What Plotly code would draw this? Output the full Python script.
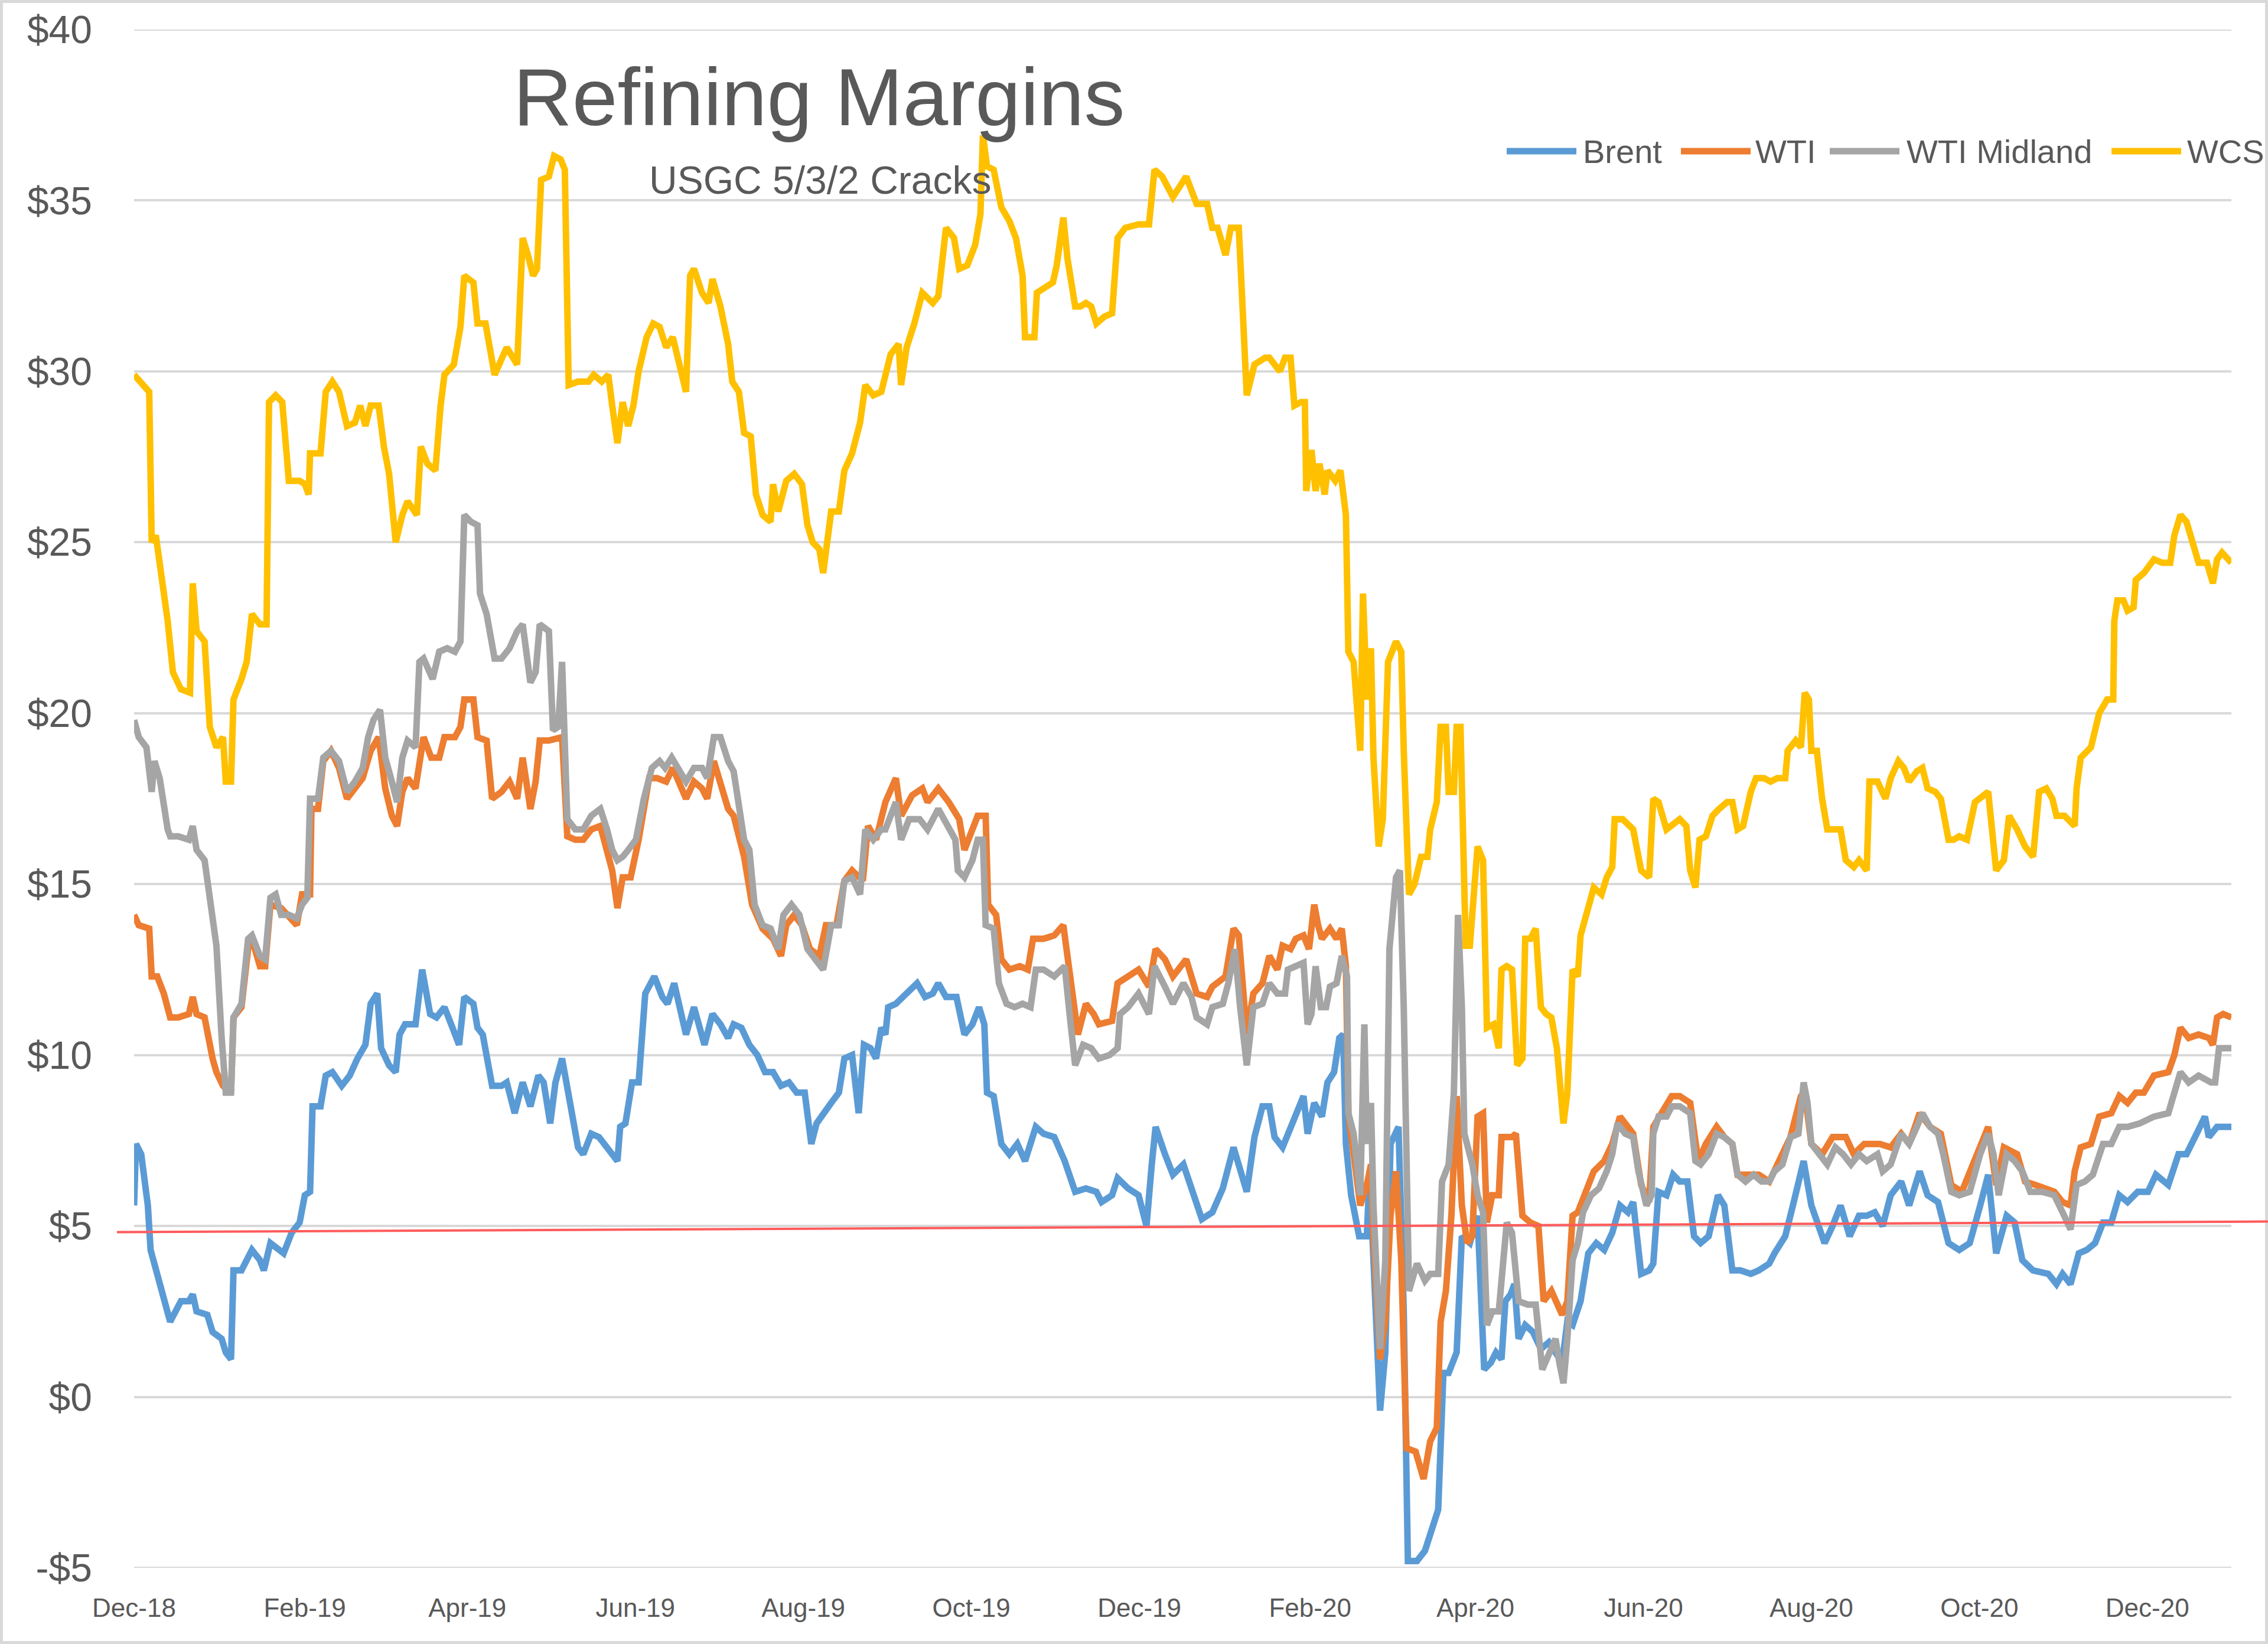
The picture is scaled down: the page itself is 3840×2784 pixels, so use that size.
import pandas as pd
import plotly.graph_objects as go

START = pd.Timestamp("2018-12-01")

# ---- Data (day offsets from 2018-12-01, values in $/bbl) ----
brent_day = [0.0, 0.7, 2.6, 5.0, 6.0, 8.4, 10.8, 13.1, 17.0, 19.9, 21.3, 22.7, 26.6, 28.5, 31.8, 33.3, 35.2, 36.1, 39.0, 42.8, 45.7, 47.1, 49.5, 52.4, 54.3, 57.2, 60.1, 62.0, 63.9, 64.8, 67.7, 69.6, 72.0, 75.4, 78.3, 81.1, 84.0, 85.9, 88.3, 89.7, 92.6, 95.0, 96.4, 98.4, 102.2, 104.6, 107.5, 109.8, 112.7, 115.6, 118.0, 119.9, 123.2, 124.7, 126.6, 130.0,
             133.4, 135.3, 138.2, 141.1, 143.9, 146.8, 148.7, 151.1, 153.0, 155.4, 158.3, 161.2, 163.1, 166.0, 168.8, 171.7, 175.5, 176.5, 178.4, 180.8, 183.2, 185.6, 188.9, 191.8, 193.7, 196.1, 198.5, 200.4, 203.3, 207.1, 210.0, 212.9, 215.7, 217.7, 220.5, 223.4, 226.3, 229.1, 232.0, 234.9, 237.8, 240.6, 243.5, 245.9, 247.8, 250.2, 253.1, 255.9, 257.9, 260.7, 263.1, 265.0, 267.4, 269.4, 271.3,
             272.8, 273.8, 276.6, 280.5, 284.3, 287.2, 290.0, 292.0, 294.8, 298.6, 301.5, 304.4, 306.8, 308.7, 309.7, 312.1, 314.9, 317.8, 320.7, 323.5, 327.4, 330.2, 334.1, 337.9, 341.7, 345.6, 349.4, 351.3, 355.1, 357.1, 360.9, 364.7, 367.6, 369.5, 370.9, 374.3, 377.2, 381.0, 383.9, 387.7, 391.5, 395.3, 399.2, 401.1, 404.0, 406.8, 409.7,
             412.2, 414.1, 417.0, 418.9, 421.8, 424.6, 426.1, 428.5, 431.3, 433.3, 435.7, 437.6, 439.0, 440.0, 441.9, 444.8, 447.6, 448.6, 450.0, 452.4, 454.3, 456.2, 459.1, 461.0, 462.5, 465.8, 468.7, 471.6, 473.5, 475.4, 477.3, 480.2, 482.1, 485.0, 487.8, 490.2, 492.6, 494.5, 496.5, 497.9, 499.8, 501.2, 502.7, 505.1, 507.9, 510.8, 513.7, 516.1, 518.5, 520.4, 522.3, 525.2, 528.0, 530.9, 533.8, 536.7, 539.5, 542.4, 544.3, 547.2, 550.1,
             551.6, 553.5, 556.4, 558.8, 561.2, 564.0, 566.4, 568.8, 571.7, 575.1, 577.4, 580.3, 583.2, 587.0, 589.9, 593.7, 595.6, 599.5, 602.3, 606.2, 609.0, 611.0, 613.8, 616.7, 619.6, 622.9, 626.3, 629.1, 632.0, 634.9, 637.8, 641.6, 644.5, 648.3, 651.2, 655.0, 658.8, 662.7, 666.5, 670.3, 673.2, 676.1, 679.9, 682.8, 685.6, 689.5,
             695.0, 698.0, 700.2, 703.1, 706.1, 709.0, 712.0, 714.9, 717.9, 720.8, 723.8, 727.5, 731.2, 734.1, 738.6, 742.3, 745.2, 748.9, 751.9, 753.3, 756.3, 761.5]
brent_usd = [5.6, 7.4, 7.1, 5.6, 4.3, 3.6, 3.0, 2.2, 2.8, 2.8, 3.0, 2.5, 2.4, 1.9, 1.7, 1.3, 1.1, 3.7, 3.7, 4.3, 4.0, 3.7, 4.5, 4.3, 4.2, 4.8, 5.1, 5.9, 6.0, 8.5, 8.5, 9.4, 9.5, 9.1, 9.4, 9.9, 10.3, 11.5, 11.8, 10.2, 9.7, 9.5, 10.6, 10.9, 10.9, 12.5, 11.2, 11.1, 11.4, 10.8, 10.3, 11.7, 11.5, 10.8, 10.6, 9.1,
             9.1, 9.2, 8.3, 9.2, 8.5, 9.4, 9.2, 8.0, 9.2, 9.9, 8.6, 7.3, 7.1, 7.7, 7.6, 7.3, 6.9, 7.9, 8.0, 9.2, 9.2, 11.8, 12.3, 11.7, 11.5, 12.1, 11.2, 10.6, 11.4, 10.3, 11.2, 10.9, 10.5, 10.9, 10.8, 10.3, 10.0, 9.5, 9.5, 9.1, 9.2, 8.9, 8.9, 7.4, 8.0, 8.3, 8.6, 8.9, 9.9, 10.0, 8.3, 10.3, 10.2, 9.9, 10.8,
             10.6, 11.4, 11.5, 11.8, 12.1, 11.7, 11.8, 12.1, 11.7, 11.7, 10.6, 10.9, 11.4, 10.9, 8.9, 8.8, 7.4, 7.1, 7.4, 6.9, 7.9, 7.7, 7.6, 6.9, 6.0, 6.1, 6.0, 5.7, 5.9, 6.4, 6.1, 5.9, 5.0, 6.8, 7.9, 7.1, 6.5, 6.8, 6.1, 5.2, 5.4, 6.1, 7.3, 6.8, 6.0, 7.6, 8.5,
             8.5, 7.6, 7.3, 7.7, 8.3, 8.8, 7.7, 8.6, 8.2, 9.2, 9.5, 10.5, 10.6, 7.4, 5.9, 4.7, 4.7, 6.6, 4.0, -0.4, 1.3, 7.4, 7.9, 2.5, -4.8, -4.8, -4.5, -3.8, -3.3, 0.7, 0.7, 1.3, 4.7, 4.5, 5.3, 0.8, 1.0, 1.3, 1.1, 2.8, 3.0, 3.3, 1.7, 2.1, 1.9, 1.4, 1.6, 1.3, 1.0, 2.2, 2.1, 2.8, 4.2, 4.5, 4.3, 4.8, 5.6, 5.4, 5.7, 3.6, 3.7,
             3.9, 6.0, 5.9, 6.5, 6.3, 6.3, 4.7, 4.5, 4.7, 5.9, 5.6, 3.7, 3.7, 3.6, 3.7, 3.9, 4.2, 4.7, 5.6, 6.9, 5.6, 5.1, 4.5, 5.0, 5.6, 4.7, 5.3, 5.3, 5.4, 5.0, 5.9, 6.3, 5.6, 6.6, 5.9, 5.7, 4.5, 4.3, 4.5, 5.6, 6.5, 4.2, 5.3, 5.1, 4.0, 3.7,
             3.6, 3.3, 3.6, 3.3, 4.2, 4.3, 4.5, 5.1, 5.1, 5.9, 5.7, 6.0, 6.0, 6.5, 6.2, 7.1, 7.1, 7.7, 8.2, 7.6, 7.9, 7.9]

wti_day = [0.0, 1.7, 5.5, 6.4, 8.4, 10.8, 13.1, 16.0, 19.9, 21.3, 22.7, 25.6, 28.5, 29.9, 32.3, 35.2, 36.1, 39.0, 41.4, 42.8, 45.7, 47.6, 49.5, 53.4, 59.1, 61.0, 63.9, 64.4, 66.8, 68.7, 71.5, 74.4, 77.3, 80.2, 83.0, 85.9, 88.8, 91.2, 93.6, 95.5, 97.4, 99.3, 102.2, 105.1, 107.9, 110.8, 112.7, 116.5, 118.5, 119.9, 123.2, 124.7, 128.0, 130.0,
           133.4, 136.3, 139.1, 141.1, 143.9, 145.8, 147.3, 150.6, 154.0, 155.4, 157.3, 160.2, 163.1, 166.0, 169.3, 171.7, 173.6, 175.5, 177.4, 180.3, 183.2, 187.0, 189.9, 193.2, 195.6, 200.4, 203.3, 206.2, 208.1, 210.5, 212.9, 215.7, 217.7, 219.6, 221.5, 224.4, 228.2, 232.0, 234.9, 236.8, 239.7, 242.5, 245.4, 248.8, 251.2, 255.0, 257.9, 260.7, 264.6, 266.5, 269.4,
           272.8, 276.6, 278.5, 282.5, 286.2, 288.1, 292.0, 295.8, 299.6, 301.5, 304.4, 306.3, 309.2, 310.1, 313.0, 314.9, 317.8, 321.6, 324.5, 326.4, 330.2, 334.1, 337.4, 339.8, 342.7, 345.6, 348.4, 350.3, 355.1, 357.1, 360.9, 364.7, 368.5, 370.9, 374.3, 377.2, 382.0, 385.8, 389.6, 391.5, 396.3, 399.2, 401.1, 404.0, 406.4, 409.7,
           412.2, 415.1, 417.0, 419.9, 421.8, 424.6, 426.6, 428.5, 429.9, 431.3, 434.2, 436.6, 438.5, 440.0, 440.9, 442.8, 445.2, 447.6, 449.1, 450.0, 452.4, 454.3, 456.2, 458.2, 460.1, 462.0, 465.3, 468.2, 470.6, 473.0, 474.4, 476.3, 478.3, 480.2, 482.1, 484.0, 485.9, 487.8, 489.8, 491.2, 493.1, 495.5, 496.5, 500.3, 501.7, 504.1, 507.0, 509.9, 511.8, 514.6, 516.6, 518.5, 520.4, 522.3, 524.2, 527.1, 530.0, 533.8, 536.7, 539.5, 542.4, 544.3, 547.2, 550.1,
           551.6, 554.5, 558.3, 561.2, 565.0, 567.9, 570.7, 574.6, 577.4, 580.3, 582.2, 586.1, 589.9, 593.7, 596.6, 601.4, 605.2, 606.6, 609.0, 612.9, 616.7, 621.5, 624.4, 628.2, 633.9, 637.8, 641.6, 644.5, 648.3, 652.1, 656.0, 659.8, 663.6, 670.3, 673.2, 676.1, 678.9, 683.7, 686.6, 690.4,
           697.2, 700.2, 703.1, 704.6, 706.8, 710.5, 713.5, 717.9, 720.8, 723.8, 726.8, 729.7, 733.4, 738.6, 740.8, 743.0, 746.0, 749.6, 753.3, 754.8, 756.3, 758.5, 761.5]
wti_usd = [14.1, 13.8, 13.7, 12.3, 12.3, 11.8, 11.1, 11.1, 11.2, 11.7, 11.2, 11.1, 9.9, 9.5, 9.1, 8.9, 11.1, 11.4, 13.1, 13.4, 12.6, 12.6, 14.4, 14.3, 13.8, 14.7, 14.7, 17.2, 17.2, 18.6, 18.9, 18.4, 17.5, 17.8, 18.1, 18.9, 19.3, 17.8, 17.0, 16.7, 17.7, 18.1, 17.8, 19.3, 18.7, 18.7, 19.3, 19.3, 19.6, 20.4, 20.4, 19.3, 19.2, 17.5,
           17.7, 18.0, 17.5, 18.7, 17.2, 18.0, 19.2, 19.2, 19.3, 19.3, 16.4, 16.3, 16.3, 16.6, 16.7, 16.0, 15.4, 14.3, 15.2, 15.2, 16.3, 18.1, 18.1, 18.0, 18.4, 17.5, 18.0, 17.8, 17.5, 18.6, 18.0, 17.2, 17.0, 16.3, 15.8, 14.4, 13.7, 13.4, 12.9, 13.8, 14.1, 13.8, 13.1, 12.9, 13.8, 13.8, 15.1, 15.4, 15.1, 16.7, 16.3,
           17.4, 18.1, 17.0, 17.6, 17.8, 17.4, 17.8, 17.4, 16.9, 16.0, 16.6, 17.0, 17.0, 14.4, 14.1, 12.8, 12.5, 12.6, 12.5, 13.4, 13.4, 13.5, 13.8, 12.3, 10.6, 11.5, 11.2, 10.9, 11.0, 12.1, 12.3, 12.5, 12.0, 13.1, 12.8, 12.3, 12.8, 11.8, 11.7, 12.0, 12.3, 13.7, 13.5, 10.6, 11.8, 12.1,
           12.9, 12.5, 13.2, 13.1, 13.4, 13.5, 13.1, 14.4, 13.8, 13.4, 13.7, 13.4, 13.7, 12.6, 8.3, 7.1, 5.6, 6.2, 6.8, 4.7, 1.1, 2.2, 5.3, 6.6, 4.0, -1.5, -1.6, -2.4, -1.3, -0.9, 2.2, 3.1, 5.3, 8.8, 5.6, 4.5, 4.7, 8.2, 8.3, 5.1, 5.9, 5.9, 7.6, 7.6, 7.7, 5.3, 5.1, 5.0, 2.8, 3.1, 2.7, 2.4, 2.8, 5.3, 5.4, 6.0, 6.6, 6.9, 7.4, 8.2, 7.9, 7.7, 6.2, 5.7,
           7.9, 8.3, 8.8, 8.8, 8.6, 6.9, 7.4, 7.9, 7.6, 7.4, 6.5, 6.5, 6.5, 6.3, 6.8, 7.6, 8.8, 8.9, 7.4, 7.1, 7.6, 7.6, 7.1, 7.4, 7.4, 7.3, 7.7, 7.4, 8.3, 7.9, 7.7, 6.2, 6.0, 7.3, 7.9, 6.2, 7.3, 7.1, 6.3, 6.2,
           6.0, 5.7, 5.6, 6.6, 7.3, 7.4, 8.2, 8.3, 8.8, 8.6, 8.9, 8.9, 9.4, 9.5, 10.0, 10.8, 10.5, 10.6, 10.5, 10.3, 11.1, 11.2, 11.1]

midland_day = [0.0, 1.7, 4.5, 6.4, 7.4, 9.3, 12.2, 13.1, 16.0, 19.9, 21.3, 22.7, 25.6, 27.5, 29.9, 31.8, 33.3, 35.2, 36.1, 39.0, 41.4, 42.8, 45.7, 47.6, 49.5, 51.4, 53.4, 56.2, 59.1, 61.0, 62.9, 63.9, 66.8, 68.7, 71.5, 74.4, 77.3, 80.2, 83.0, 85.0, 86.9, 89.3, 91.2, 93.6, 95.5, 97.4, 99.3, 102.2, 103.6, 105.1, 108.4, 110.8, 113.7, 116.5, 118.5, 119.9, 122.3, 124.7, 125.6, 128.0, 130.9,
               133.4, 136.3, 139.1, 141.1, 143.9, 145.8, 147.3, 150.6, 152.1, 154.0, 155.4, 157.3, 160.2, 163.1, 166.0, 169.3, 171.7, 173.6, 175.5, 177.4, 179.4, 182.2, 185.1, 188.0, 190.8, 192.8, 195.2, 197.5, 200.4, 203.3, 206.2, 208.1, 210.5, 212.9, 215.7, 217.7, 219.6, 221.5, 223.4, 225.3, 228.2, 231.1, 233.9, 235.8, 238.7, 241.6, 244.5, 247.3, 250.2, 253.1, 255.9, 257.9, 260.7, 263.6, 265.5, 268.4, 271.3,
               272.8, 276.6, 278.5, 281.4, 285.2, 288.1, 292.0, 295.8, 298.2, 299.1, 301.5, 304.4, 306.3, 308.2, 309.2, 312.1, 314.0, 316.8, 319.7, 322.6, 325.5, 327.4, 330.2, 334.1, 337.9, 339.8, 341.7, 344.6, 347.5, 350.3, 354.2, 357.1, 358.0, 360.9, 364.7, 368.5, 370.5, 374.3, 377.2, 381.0, 383.9, 385.8, 389.6, 391.5, 395.3, 397.3, 399.7, 401.6, 404.0, 406.4, 409.7,
               412.2, 415.1, 417.9, 418.9, 421.8, 424.6, 426.1, 427.5, 429.0, 430.9, 432.8, 434.2, 436.6, 438.5, 440.4, 440.9, 442.8, 445.2, 446.7, 447.6, 449.1, 450.0, 452.4, 454.3, 455.8, 458.2, 459.6, 461.0, 462.9, 465.8, 468.7, 470.6, 473.5, 474.9, 477.3, 479.2, 480.7, 482.1, 483.0, 485.9, 487.8, 489.8, 491.2, 493.1, 495.5, 498.4, 500.3, 502.7, 506.0, 508.9, 511.3, 513.7, 516.1, 517.5, 519.0, 520.4, 522.3, 524.2, 526.1, 529.0, 531.9, 534.7, 536.7, 538.6, 541.4, 544.3, 546.2, 549.1, 551.0,
               551.6, 553.5, 556.4, 558.3, 561.2, 565.0, 566.9, 568.8, 571.7, 574.6, 577.4, 580.3, 582.2, 585.1, 588.0, 590.9, 593.7, 595.6, 598.5, 601.4, 604.3, 606.2, 607.6, 609.0, 611.9, 614.8, 617.7, 620.5, 623.4, 626.3, 629.1, 633.0, 634.9, 637.8, 641.6, 644.5, 647.3, 649.3, 652.1, 655.0, 656.9, 659.8, 662.7, 666.5, 670.3, 673.2, 675.1, 677.0, 679.9, 682.8, 685.6, 688.5,
               692.8, 697.2, 700.2, 703.1, 705.3, 708.3, 711.2, 714.9, 717.9, 720.8, 723.8, 728.2, 733.4, 738.6, 740.8, 743.0, 746.0, 749.6, 754.1, 755.6, 757.0, 761.5]
midland_usd = [19.8, 19.3, 19.0, 17.7, 18.6, 18.1, 16.6, 16.4, 16.4, 16.3, 16.7, 16.0, 15.7, 14.7, 13.2, 10.5, 8.9, 8.9, 11.1, 11.5, 13.4, 13.5, 12.9, 12.8, 14.6, 14.7, 14.1, 14.1, 14.0, 14.4, 14.6, 17.5, 17.5, 18.7, 18.9, 18.6, 17.7, 18.0, 18.4, 19.3, 19.8, 20.1, 18.7, 18.0, 17.4, 18.7, 19.2, 19.0, 21.5, 21.6, 21.0, 21.8, 21.9, 21.8, 22.1, 25.8, 25.6, 25.5, 23.5, 22.9, 21.6,
               21.6, 21.9, 22.4, 22.6, 20.9, 21.2, 22.6, 22.4, 19.5, 19.6, 21.5, 16.9, 16.6, 16.6, 17.0, 17.2, 16.6, 16.0, 15.7, 15.8, 16.0, 16.3, 17.5, 18.4, 18.6, 18.4, 18.7, 18.4, 18.0, 18.4, 18.4, 18.1, 19.3, 19.3, 18.6, 18.3, 17.2, 16.3, 16.0, 14.4, 13.8, 13.7, 13.1, 14.1, 14.4, 14.1, 13.1, 12.8, 12.5, 13.8, 13.8, 15.1, 15.2, 14.7, 16.6, 16.3, 16.6,
               16.6, 17.4, 16.3, 16.9, 16.9, 16.6, 17.2, 16.6, 16.3, 15.4, 15.2, 15.7, 16.3, 16.3, 13.8, 13.7, 12.1, 11.5, 11.4, 11.5, 11.4, 12.5, 12.5, 12.3, 12.6, 11.1, 9.7, 10.3, 10.2, 9.9, 10.0, 10.2, 11.2, 11.4, 11.8, 11.2, 12.6, 12.0, 11.5, 12.1, 11.7, 11.1, 10.9, 11.4, 11.5, 12.1, 13.1, 11.4, 9.7, 11.4, 11.5,
               12.1, 11.8, 11.8, 12.5, 12.6, 12.7, 10.9, 11.2, 12.6, 11.4, 11.4, 12.0, 12.1, 12.9, 12.3, 8.3, 7.7, 5.9, 10.9, 7.4, 8.6, 5.6, 1.4, 4.0, 13.1, 15.2, 15.4, 11.4, 3.1, 3.9, 3.4, 3.6, 3.6, 6.3, 6.8, 8.9, 14.1, 11.4, 7.7, 6.8, 5.9, 5.4, 2.1, 2.5, 2.5, 5.1, 4.8, 2.8, 2.7, 2.7, 0.8, 1.3, 1.7, 1.0, 0.4, 1.7, 4.0, 4.5, 5.4, 5.9, 6.1, 6.6, 7.1, 8.0, 7.7, 7.6, 6.6, 5.6, 5.9,
               7.7, 8.2, 8.2, 8.5, 8.5, 8.3, 6.9, 6.8, 7.1, 7.7, 7.6, 7.4, 6.5, 6.3, 6.5, 6.3, 6.3, 6.6, 6.8, 7.6, 7.7, 9.2, 8.6, 7.4, 7.1, 6.8, 7.3, 7.1, 6.8, 7.1, 6.9, 7.1, 6.6, 6.8, 7.7, 7.4, 7.9, 8.3, 7.9, 7.7, 7.1, 6.0, 5.9, 6.0, 7.1, 7.7, 7.1, 5.9, 7.1, 6.9, 6.6, 6.0,
               6.0, 5.9, 5.4, 4.9, 6.2, 6.3, 6.5, 7.4, 7.4, 7.9, 7.9, 8.0, 8.2, 8.3, 8.9, 9.5, 9.2, 9.4, 9.2, 9.2, 10.2, 10.2]

wcs_day = [0.0, 3.1, 5.5, 6.4, 7.9, 9.8, 12.2, 14.1, 17.0, 20.3, 21.3, 22.7, 25.6, 27.5, 29.9, 32.3, 33.3, 35.2, 36.1, 39.0, 40.9, 42.8, 45.7, 48.1, 49.0, 51.4, 53.8, 56.2, 60.1, 62.0, 63.4, 63.9, 67.7, 69.6, 72.0, 74.4, 77.3, 80.2, 82.1, 84.0, 85.9, 88.8, 90.7, 92.6, 95.0, 97.4, 99.3, 102.7, 104.1, 106.5, 109.4, 111.3, 112.7, 116.1, 118.5, 119.9, 123.2, 124.7, 127.6, 130.9,
           133.4, 135.3, 139.1, 141.1, 143.0, 144.9, 146.3, 147.8, 150.6, 152.5, 154.9, 156.4, 157.8, 161.2, 165.0, 166.9, 169.8, 172.2, 173.6, 175.5, 177.4, 179.4, 181.3, 183.2, 186.1, 188.5, 190.8, 193.2, 195.6, 198.0, 200.4, 201.9, 203.3, 206.2, 208.6, 210.0, 212.9, 215.7, 217.2, 219.6, 221.5, 223.9, 225.8, 228.2, 231.1, 232.0, 233.9, 236.8, 239.7, 242.5, 244.5, 246.4, 248.8, 250.2, 253.1, 255.9, 257.9, 260.7, 263.6, 265.5, 268.4, 271.3,
           272.8, 274.7, 277.6, 278.5, 280.5, 283.3, 286.2, 290.0, 292.0, 293.4, 294.8, 297.7, 299.6, 302.5, 305.4, 307.3, 308.2, 309.7, 312.1, 314.9, 317.8, 320.2, 322.6, 323.5, 326.9, 327.8, 331.2, 333.6, 335.0, 337.4, 338.9, 341.7, 343.6, 345.6, 347.5, 349.4, 352.3, 355.1, 357.1, 359.9, 364.7, 368.5, 370.5, 373.3, 377.2, 382.0, 385.8, 389.6, 391.5, 393.4, 396.3, 398.2, 401.1, 404.0, 406.8, 410.7,
           412.2, 414.1, 416.0, 417.9, 419.9, 421.3, 423.7, 425.1, 425.6, 427.5, 429.0, 430.4, 432.3, 433.3, 436.1, 438.0, 440.0, 440.9, 442.8, 445.2, 446.2, 447.6, 449.1, 450.0, 451.9, 453.4, 455.3, 458.2, 460.1, 461.0, 462.9, 464.9, 467.3, 469.6, 470.6, 473.0, 474.4, 476.3, 477.3, 479.2, 480.2, 481.6, 483.5, 485.0, 487.8, 489.8, 491.2, 493.6, 495.5, 496.5, 498.4, 500.3, 502.2, 504.1, 505.1, 507.0, 508.9, 510.8, 512.7, 514.6, 516.6, 519.0, 520.4, 522.3, 524.2, 525.2, 528.0, 530.0, 532.8, 534.7, 536.7, 537.6, 540.5, 544.3, 547.2, 550.1,
           551.6, 553.5, 556.4, 558.3, 561.2, 563.6, 565.0, 566.9, 568.4, 570.7, 573.1, 575.5, 578.4, 580.3, 582.2, 584.2, 587.0, 588.9, 591.8, 594.2, 596.6, 599.5, 600.4, 603.3, 605.2, 606.6, 608.1, 609.0, 611.0, 612.9, 614.8, 617.7, 619.6, 621.5, 624.4, 626.3, 629.1, 630.1, 633.0, 635.9, 637.8, 640.6, 642.6, 644.5, 647.3, 649.3, 651.2, 654.0, 656.0, 658.8, 660.7, 662.7, 665.5, 668.4, 673.2, 676.1, 678.9, 680.8, 683.7, 686.6, 689.5,
           691.7, 694.3, 696.5, 698.0, 700.9, 704.6, 705.3, 706.8, 710.5, 713.5, 716.4, 718.6, 719.0, 720.1, 722.3, 723.8, 726.0, 726.8, 729.7, 733.4, 736.4, 739.3, 740.8, 743.0, 745.2, 747.4, 749.6, 752.6, 754.8, 756.3, 758.1, 761.5]
wcs_usd = [29.9, 29.6, 29.4, 25.0, 25.2, 24.1, 22.7, 21.2, 20.7, 20.6, 23.8, 22.4, 22.1, 19.6, 19.0, 19.3, 18.0, 18.0, 20.4, 21.0, 21.5, 22.9, 22.6, 22.6, 29.1, 29.3, 29.1, 26.8, 26.8, 26.7, 26.4, 27.6, 27.6, 29.4, 29.7, 29.4, 28.4, 28.5, 29.0, 28.4, 29.0, 29.0, 27.8, 27.0, 25.0, 25.8, 26.2, 25.8, 27.8, 27.3, 27.1, 29.0, 29.9, 30.2, 31.3, 32.8, 32.6, 31.4, 31.4, 29.9,
           30.4, 30.7, 30.2, 33.9, 33.4, 32.8, 33.0, 35.6, 35.7, 36.3, 36.2, 35.9, 29.6, 29.7, 29.7, 29.9, 29.7, 29.9, 29.0, 27.9, 29.1, 28.4, 29.0, 30.0, 31.0, 31.4, 31.3, 30.7, 31.0, 30.2, 29.4, 32.8, 33.0, 32.3, 32.0, 32.7, 31.9, 30.8, 29.7, 29.4, 28.2, 28.1, 26.4, 25.8, 25.6, 26.7, 25.9, 26.8, 27.0, 26.7, 25.5, 25.0, 24.8, 24.1, 25.9, 25.9, 27.1, 27.6, 28.5, 29.6, 29.3, 29.4,
           29.9, 30.5, 30.8, 29.6, 30.7, 31.4, 32.3, 32.0, 32.2, 33.4, 34.2, 33.9, 33.0, 33.1, 33.7, 34.6, 36.9, 36.0, 35.9, 34.8, 34.4, 33.9, 32.8, 31.0, 31.0, 32.3, 32.5, 32.6, 33.1, 34.5, 33.3, 31.9, 31.9, 32.0, 31.9, 31.4, 31.6, 31.7, 33.9, 34.2, 34.3, 34.3, 35.9, 35.7, 35.1, 35.7, 34.9, 34.9, 34.2, 34.2, 33.4, 34.2, 34.2, 29.3, 30.2, 30.4,
           30.4, 30.2, 30.0, 30.4, 30.4, 29.0, 29.1, 29.1, 26.5, 27.7, 26.5, 27.3, 26.4, 27.1, 26.8, 27.1, 25.8, 21.8, 21.5, 18.9, 23.5, 20.4, 21.9, 18.7, 16.1, 16.9, 21.5, 22.1, 21.8, 18.9, 14.7, 15.0, 15.8, 15.8, 16.6, 17.4, 19.6, 19.6, 17.7, 17.7, 19.6, 19.6, 13.2, 13.2, 16.1, 15.7, 10.8, 10.9, 10.2, 12.5, 12.6, 12.5, 9.7, 9.9, 13.4, 13.4, 13.7, 11.4, 11.2, 11.1, 10.2, 8.0, 8.9, 12.5, 12.3, 13.5, 14.4, 14.9, 14.7, 15.2, 15.5, 16.9, 16.9, 16.6, 15.4, 15.2,
           17.5, 17.4, 16.6, 16.7, 16.9, 16.7, 15.4, 14.9, 16.3, 16.4, 17.0, 17.2, 17.4, 17.4, 16.6, 16.7, 17.7, 18.1, 18.1, 18.0, 18.1, 18.1, 18.9, 19.2, 19.0, 20.6, 20.4, 18.9, 18.9, 17.5, 16.6, 16.6, 16.6, 15.7, 15.5, 15.7, 15.4, 18.0, 18.0, 17.5, 18.1, 18.6, 18.4, 18.0, 18.3, 18.4, 17.8, 17.7, 17.5, 16.3, 16.3, 16.4, 16.3, 17.4, 17.7, 15.4, 15.7, 17.0, 16.6, 16.1, 15.8,
           17.7, 17.8, 17.5, 17.0, 17.0, 16.7, 17.8, 18.7, 19.0, 20.0, 20.4, 20.4, 22.7, 23.3, 23.3, 23.0, 23.1, 23.9, 24.1, 24.5, 24.4, 24.4, 25.2, 25.8, 25.6, 25.0, 24.4, 24.4, 23.8, 24.5, 24.7, 24.4]

series_names = ["Brent", "WTI", "WTI Midland", "WCS"]
series_colors = ["#5B9BD5", "#ED7D31", "#A5A5A5", "#FFC000"]
series_days = [brent_day, wti_day, midland_day, wcs_day]
series_vals = [brent_usd, wti_usd, midland_usd, wcs_usd]

y_tick_vals = [-5, 0, 5, 10, 15, 20, 25, 30, 35, 40]
y_tick_text = ["-$5", "$0", "$5", "$10", "$15", "$20", "$25", "$30", "$35", "$40"]
y_min, y_max = -5, 40

title_text = "Refining Margins"
subtitle_text = "USGC 5/3/2 Cracks"
threshold_start, threshold_end = 4.82, 5.13

# ---- Figure ----
W, H = 3840, 2784
L, R, T, B = 227, 62, 50, 129
PW, PH = W - L - R, H - T - B


def px(xp):
    return (xp - L) / PW


def py(yp):
    return 1 - (yp - T) / PH


TXT = "#595959"
GRID = "#D9D9D9"
FONT = "Liberation Sans"

fig = go.Figure()
for name, color, days, vals in zip(series_names, series_colors, series_days, series_vals):
    dates = START + pd.to_timedelta(pd.Series(days), unit="D")
    fig.add_trace(go.Scatter(x=dates, y=vals, mode="lines", name=name,
                             line=dict(color=color, width=11), showlegend=False))

shapes = [
    # chart border
    dict(type="rect", xref="paper", yref="paper", x0=px(2.5), x1=px(W - 2.5), y0=py(H - 2.5), y1=py(2.5),
         line=dict(color=GRID, width=5), layer="below"),
    # gridlines at the range ends (plotly omits them at the very edges)
    dict(type="line", xref="paper", yref="y", x0=0, x1=1, y0=y_max, y1=y_max,
         line=dict(color=GRID, width=4), layer="below"),
    dict(type="line", xref="paper", yref="y", x0=0, x1=1, y0=y_min, y1=y_min,
         line=dict(color=GRID, width=4), layer="below"),
    # red reference line
    dict(type="line", xref="paper", yref="y", x0=px(198), x1=px(W), y0=threshold_start, y1=threshold_end,
         line=dict(color="#FF5B5B", width=4), layer="above"),
]

annotations = [
    dict(text=title_text, xref="paper", yref="paper", x=px(1386), y=py(164), xanchor="center", yanchor="middle",
         showarrow=False, font=dict(family=FONT, size=138, color=TXT)),
    dict(text=subtitle_text, xref="paper", yref="paper", x=px(1389), y=py(305), xanchor="center", yanchor="middle",
         showarrow=False, font=dict(family=FONT, size=66, color=TXT)),
]

# manual legend
leg_line_x = [(2551, 2669), (2846, 2964), (3098, 3216), (3575, 3693)]
leg_text_x = [2678, 2970, 3226, 3701]
leg_y = 256
for name, color, (a, b), tx in zip(series_names, series_colors, leg_line_x, leg_text_x):
    shapes.append(dict(type="line", xref="paper", yref="paper", x0=px(a), x1=px(b), y0=py(leg_y), y1=py(leg_y),
                       line=dict(color=color, width=11)))
    annotations.append(dict(text=name, xref="paper", yref="paper", x=px(tx), y=py(leg_y), xanchor="left",
                            yanchor="middle", showarrow=False, font=dict(family=FONT, size=56, color=TXT)))

fig.update_layout(
    width=W, height=H,
    margin=dict(l=L, r=R, t=T, b=B, pad=0),
    paper_bgcolor="white", plot_bgcolor="white",
    showlegend=False,
    shapes=shapes, annotations=annotations,
    xaxis=dict(type="date",
               range=[START, START + pd.Timedelta(days=761.5)],
               tick0="2018-12-01", dtick="M2", tickformat="%b-%y",
               showgrid=False, zeroline=False, showline=False, ticks="",
               ticklabelstandoff=38,
               tickfont=dict(family=FONT, size=44, color=TXT)),
    yaxis=dict(range=[y_min, y_max], tickvals=y_tick_vals, ticktext=y_tick_text,
               showgrid=True, gridcolor=GRID, gridwidth=4, zeroline=False, showline=False, ticks="",
               ticklabelstandoff=70,
               tickfont=dict(family=FONT, size=66, color=TXT)),
)

fig.write_html("out.html", config={"displayModeBar": False},
               post_script="document.body.style.margin='0';document.body.style.overflow='hidden';")
